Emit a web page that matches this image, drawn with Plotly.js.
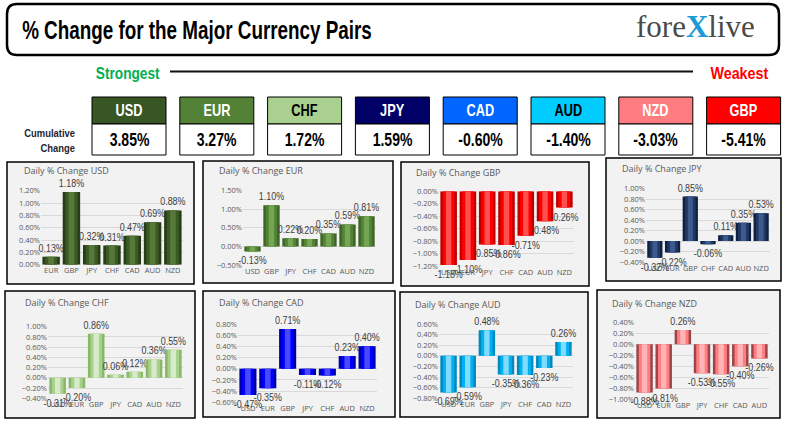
<!DOCTYPE html>
<html>
<head>
<meta charset="utf-8">
<script src="https://cdn.plot.ly/plotly-3.0.1.min.js"></script>
<style>html,body{margin:0;padding:0;background:#fff;}#chart{width:790px;height:429px;}</style>
</head>
<body>
<div id="chart"></div>
<script>
// ---------- DATA ----------
const currencies = ['USD','EUR','CHF','JPY','CAD','AUD','NZD','GBP'];
const cumulative = [3.85, 3.27, 1.72, 1.59, -0.60, -1.40, -3.03, -5.41];

const usdCats = ['EUR','GBP','JPY','CHF','CAD','AUD','NZD'];
const usdVals = [0.13, 1.18, 0.32, 0.31, 0.47, 0.69, 0.88];
const eurCats = ['USD','GBP','JPY','CHF','CAD','AUD','NZD'];
const eurVals = [-0.13, 1.10, 0.22, 0.20, 0.35, 0.59, 0.81];
const gbpCats = ['USD','EUR','JPY','CHF','CAD','AUD','NZD'];
const gbpVals = [-1.18, -1.10, -0.85, -0.86, -0.71, -0.48, -0.26];
const jpyCats = ['USD','EUR','GBP','CHF','CAD','AUD','NZD'];
const jpyVals = [-0.32, -0.22, 0.85, -0.06, 0.11, 0.35, 0.53];
const chfCats = ['USD','EUR','GBP','JPY','CAD','AUD','NZD'];
const chfVals = [-0.31, -0.20, 0.86, 0.06, 0.12, 0.36, 0.55];
const cadCats = ['USD','EUR','GBP','JPY','CHF','AUD','NZD'];
const cadVals = [-0.47, -0.35, 0.71, -0.11, -0.12, 0.23, 0.40];
const audCats = ['USD','EUR','GBP','JPY','CHF','CAD','NZD'];
const audVals = [-0.69, -0.59, 0.48, -0.35, -0.36, -0.23, 0.26];
const nzdCats = ['USD','EUR','GBP','JPY','CHF','CAD','AUD'];
const nzdVals = [-0.88, -0.81, 0.26, -0.53, -0.55, -0.40, -0.26];

// ---------- LAYOUT HELPERS ----------
const W = 790, H = 429;
const px = v => v / W;
const py = v => 1 - v / H;

const boxFill = ['#375623','#538135','#a9d08e','#000066','#0066ff','#00ccff','#ff7c80','#ff0000'];
const boxText = ['#ffffff','#ffffff','#000000','#ffffff','#ffffff','#000000','#ffffff','#ffffff'];

const panels = [
  {name:'USD', cats:usdCats, vals:usdVals, col:['#263d17','#3b5a24','#56793a'], frame:[7,162,194,284], plot:[41,183,190.7,264.7], range:[0,1.2], dtick:0.2, title:[22,171]},
  {name:'EUR', cats:eurCats, vals:eurVals, col:['#3c6526','#548235','#74a653'], frame:[203,161,393,283], plot:[243,376,190.3,265.3], range:[-0.5,1.5], dtick:0.5, title:[217,171]},
  {name:'GBP', cats:gbpCats, vals:gbpVals, col:['#c00000','#ff0000','#ff5050'], frame:[401,162,589,286], plot:[439,574,191.3,266.3], range:[-1.2,0], dtick:0.2, title:[414,172]},
  {name:'JPY', cats:jpyCats, vals:jpyVals, col:['#101f40','#1f3864','#3d5a8f'], frame:[606,158,781,281], plot:[646,770,188.7,262], range:[-0.4,1.0], dtick:0.2, title:[620,168]},
  {name:'CHF', cats:chfCats, vals:chfVals, col:['#86b866','#a9d08e','#d6ebc8'], frame:[5,291,195,418], plot:[48,183,326.7,398.3], range:[-0.4,1.0], dtick:0.2, title:[23,302]},
  {name:'CAD', cats:cadCats, vals:cadVals, col:['#0000a8','#0000ff','#4848ff'], frame:[203,291,395,417], plot:[238,377,324,402.3], range:[-0.6,0.8], dtick:0.2, title:[217,302]},
  {name:'AUD', cats:audCats, vals:audVals, col:['#0088c0','#00b0f0','#80dcff'], frame:[400,292,588,417], plot:[439,573,324,398.3], range:[-0.8,0.6], dtick:0.2, title:[413,304]},
  {name:'NZD', cats:nzdCats, vals:nzdVals, col:['#9c4548','#ff7c80','#ffb4b6'], frame:[597,290,780,418], plot:[635,769,322.3,399], range:[-1.0,0.4], dtick:0.2, title:[610,303]}
];

const data = [];
const layout = {
  width: W, height: H,
  margin: {l:0, r:0, t:0, b:0},
  paper_bgcolor: '#ffffff',
  plot_bgcolor: 'rgba(0,0,0,0)',
  barmode: 'overlay',
  showlegend: false,
  hovermode: false,
  font: {family: 'Liberation Sans, Arial, sans-serif'},
  shapes: [],
  annotations: []
};

const heavy = 'Liberation Sans, Arial, sans-serif';
const squeeze = []; // {index, scale | width}
function addAnn(a, sq) {
  layout.annotations.push(a);
  if (sq) squeeze.push(Object.assign({index: layout.annotations.length - 1}, sq));
}

// Header rounded box
const hx0 = 7, hy0 = 4, hx1 = 779, hy1 = 55, r = 10;
layout.shapes.push({
  type:'path', xref:'paper', yref:'paper', layer:'below',
  path: `M ${px(hx0+r)},${py(hy0)} L ${px(hx1-r)},${py(hy0)} Q ${px(hx1)},${py(hy0)} ${px(hx1)},${py(hy0+r)} L ${px(hx1)},${py(hy1-r)} Q ${px(hx1)},${py(hy1)} ${px(hx1-r)},${py(hy1)} L ${px(hx0+r)},${py(hy1)} Q ${px(hx0)},${py(hy1)} ${px(hx0)},${py(hy1-r)} L ${px(hx0)},${py(hy0+r)} Q ${px(hx0)},${py(hy0)} ${px(hx0+r)},${py(hy0)} Z`,
  line:{color:'#000000', width:2.5}, fillcolor:'#ffffff'
});
addAnn({
  xref:'paper', yref:'paper', x:px(20), y:py(30), xanchor:'left', yanchor:'middle', showarrow:false,
  text:'<b>% Change for the Major Currency Pairs</b>',
  font:{family:heavy, size:25, color:'#000000'}
}, {width:350, anchor:'left'});
addAnn({
  xref:'paper', yref:'paper', x:px(695), y:py(27), xanchor:'center', yanchor:'middle', showarrow:false,
  text:"fore<span style='color:#1b9ad6'><b>X</b></span>live",
  font:{family:'Liberation Serif, DejaVu Serif, serif', size:31, color:'#4a4a4a'}
});

// Strongest / Weakest
addAnn({
  xref:'paper', yref:'paper', x:px(128), y:py(73), xanchor:'center', yanchor:'middle', showarrow:false,
  text:'<b>Strongest</b>', font:{family:heavy, size:17, color:'#00b050'}
}, {width:64, anchor:'middle'});
addAnn({
  xref:'paper', yref:'paper', x:px(739), y:py(73), xanchor:'center', yanchor:'middle', showarrow:false,
  text:'<b>Weakest</b>', font:{family:heavy, size:17, color:'#ff0000'}
}, {width:58, anchor:'middle'});
layout.shapes.push({type:'line', xref:'paper', yref:'paper', x0:px(170), x1:px(693), y0:py(71.5), y1:py(71.5), line:{color:'#111111', width:2}});

// Cumulative Change label
addAnn({
  xref:'paper', yref:'paper', x:px(77), y:py(140), xanchor:'right', yanchor:'middle', align:'right', showarrow:false,
  text:'<b>Cumulative</b><br><b>Change</b>', font:{family:heavy, size:11.5, color:'#1f1f2f'}
}, {scale:0.82, anchor:'right'});

// Currency boxes
currencies.forEach((c, i) => {
  const x0 = 92 + i * 87.8, x1 = x0 + 74;
  layout.shapes.push({type:'rect', xref:'paper', yref:'paper', x0:px(x0), x1:px(x1), y0:py(124), y1:py(97), fillcolor:boxFill[i], line:{color:'#000000', width:1}});
  layout.shapes.push({type:'rect', xref:'paper', yref:'paper', x0:px(x0), x1:px(x1), y0:py(155), y1:py(124), fillcolor:'#ffffff', line:{color:'#000000', width:1}});
  addAnn({xref:'paper', yref:'paper', x:px((x0+x1)/2), y:py(110.5), xanchor:'center', yanchor:'middle', showarrow:false,
    text:'<b>'+c+'</b>', font:{family:heavy, size:17, color:boxText[i]}}, {scale:0.75, anchor:'middle'});
  addAnn({xref:'paper', yref:'paper', x:px((x0+x1)/2), y:py(140), xanchor:'center', yanchor:'middle', showarrow:false,
    text:'<b>'+cumulative[i].toFixed(2)+'%</b>', font:{family:heavy, size:18, color:'#000000'}}, {scale:0.78, anchor:'middle'});
});

// Daily panels
panels.forEach((p, k) => {
  const n = k + 1;
  const xa = 'x' + (n === 1 ? '' : n), ya = 'y' + (n === 1 ? '' : n);
  const xk = 'xaxis' + (n === 1 ? '' : n), yk = 'yaxis' + (n === 1 ? '' : n);
  const [fx0, fy0, fx1, fy1] = p.frame;
  layout.shapes.push({type:'rect', xref:'paper', yref:'paper', layer:'below', x0:px(fx0), x1:px(fx1), y0:py(fy1), y1:py(fy0), fillcolor:'#f2f2f2', line:{color:'#000000', width:1.5}});
  addAnn({xref:'paper', yref:'paper', x:px(p.title[0]), y:py(p.title[1]), xanchor:'left', yanchor:'middle', showarrow:false,
    text:'Daily % Change ' + p.name, font:{family:'Open Sans, Noto Sans, sans-serif', size:9, color:'#595959'}});
  const [ax0, ax1, ayTop, ayBot] = p.plot;
  layout[xk] = {domain:[px(ax0), px(ax1)], anchor:ya, type:'category', showgrid:false, showline:false, zeroline:false, ticks:'', fixedrange:true,
    tickfont:{family:'Open Sans, Noto Sans, sans-serif', size:7.5, color:'#595959'}, tickangle:0};
  layout[yk] = {domain:[py(ayBot), py(ayTop)], anchor:xa, range:p.range, dtick:p.dtick, tick0:0, tickformat:'.2f', ticksuffix:'%',
    showgrid:true, gridcolor:'#d9d9d9', gridwidth:1, zeroline:false, showline:false, ticks:'', fixedrange:true,
    tickfont:{family:'Open Sans, Noto Sans, sans-serif', size:7.5, color:'#595959'}};
  const widths = [0.86, 0.6, 0.28];
  widths.forEach((w, j) => {
    const tr = {type:'bar', x:p.cats, y:p.vals, xaxis:xa, yaxis:ya, width:w,
      marker:{color:p.col[j], line:{width:0}}, cliponaxis:false, hoverinfo:'skip'};
    if (j === 0) {
      tr.texttemplate = '%{y:.2f}%';
      tr.textposition = 'outside';
      tr.constraintext = 'none';
      tr.textfont = {family:'Liberation Sans, Arial, sans-serif', size:10.5, color:'#404040'};
    } else {
      tr.text = ''; tr.textposition = 'none';
    }
    data.push(tr);
  });
});

Plotly.newPlot('chart', data, layout, {staticPlot:true, displayModeBar:false}).then(gd => {
  // horizontally condense the heavy header texts (condensed display face look)
  squeeze.forEach(s => {
    const t = gd.querySelector('g.annotation[data-index="' + s.index + '"] text.annotation-text');
    if (!t) return;
    const bb = t.getBBox();
    const sc = s.width ? s.width / bb.width : s.scale;
    const cx = s.anchor === 'left' ? bb.x : (s.anchor === 'right' ? bb.x + bb.width : bb.x + bb.width / 2);
    t.setAttribute('transform', `translate(${cx},0) scale(${sc},1) translate(${-cx},0)`);
  });
  // narrower bar value labels, like the original's narrow chart font
  gd.querySelectorAll('text.bartext').forEach(t => {
    const bb = t.getBBox();
    const cx = bb.x + bb.width / 2;
    const prev = t.getAttribute('transform') || '';
    t.setAttribute('transform', `${prev} translate(${cx},0) scale(0.85,1) translate(${-cx},0)`);
  });
});
</script>
</body>
</html>
